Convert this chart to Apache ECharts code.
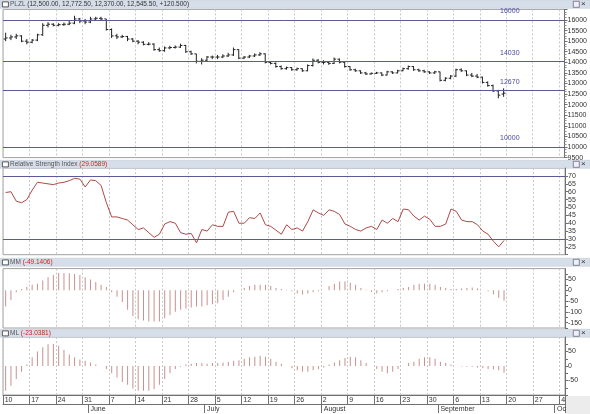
<!DOCTYPE html>
<html>
<head>
<meta charset="utf-8">
<script src="https://cdn.jsdelivr.net/npm/echarts@6/dist/echarts.min.js"></script>
<style>
  html, body { margin: 0; padding: 0; background: #fff; }
  #chart { width: 590px; height: 414px; }
</style>
</head>
<body>
<div id="chart"></div>
<script>
// daily bars [open, high, low, close], 10 May - 17 Sep
var ohlc = [
  [15100,15400,15000,15150],[15150,15300,15050,15200],[15200,15350,15100,15250],[15250,15280,14950,15000],[15000,15100,14850,14950],
  [14950,15100,14900,15050],[15050,15350,15000,15300],[15300,15850,15250,15750],[15750,15900,15650,15800],[15800,15850,15700,15750],
  [15750,15850,15700,15780],[15780,15880,15720,15800],[15800,15950,15750,15850],[15850,16200,15800,16050],[16050,16100,15850,15950],
  [15950,16050,15800,15900],[15900,16150,15850,16050],[16050,16150,15980,16080],[16080,16150,15950,16050],[16050,16050,15500,15550],
  [15550,15600,15150,15250],[15250,15350,15100,15200],[15200,15300,15150,15220],[15220,15250,15000,15100],[15100,15150,14950,15000],
  [15000,15050,14850,14950],[14950,15000,14800,14850],[14850,14950,14800,14860],[14860,14900,14550,14600],[14600,14700,14500,14550],
  [14550,14750,14500,14680],[14680,14780,14620,14700],[14700,14800,14650,14720],[14720,14880,14680,14800],[14800,14820,14450,14500],
  [14500,14550,14350,14400],[14400,14400,13950,14050],[14050,14200,13900,14100],[14100,14300,14050,14250],[14250,14320,14150,14250],
  [14250,14350,14150,14250],[14250,14380,14200,14300],[14300,14450,14250,14350],[14350,14700,14300,14600],[14600,14620,14150,14200],
  [14200,14300,14150,14250],[14250,14350,14200,14300],[14300,14420,14250,14350],[14350,14480,14300,14400],[14400,14420,13950,14000],
  [14000,14050,13900,13950],[13950,14000,13750,13800],[13800,13850,13650,13700],[13700,13800,13650,13750],[13750,13780,13600,13650],
  [13650,13750,13600,13700],[13700,13720,13550,13600],[13600,13900,13580,13850],[13850,14180,13800,14100],[14100,14150,13950,14000],
  [14000,14100,13900,14000],[14000,14020,13880,13950],[13950,14230,13920,14150],[14150,14180,13950,14000],[14000,14020,13750,13800],
  [13800,13820,13600,13650],[13650,13700,13550,13600],[13600,13620,13450,13500],[13500,13550,13400,13450],[13450,13520,13420,13480],
  [13480,13550,13450,13500],[13500,13520,13350,13400],[13400,13600,13380,13550],[13550,13580,13450,13500],[13500,13650,13480,13600],
  [13600,13750,13580,13700],[13700,13850,13650,13800],[13800,13820,13600,13650],[13650,13700,13550,13600],[13600,13650,13500,13550],
  [13550,13580,13450,13500],[13500,13600,13450,13550],[13550,13560,13100,13150],[13150,13300,13100,13250],[13250,13400,13200,13350],
  [13350,13700,13300,13650],[13650,13720,13550,13600],[13600,13620,13350,13400],[13400,13500,13300,13350],[13350,13450,13250,13300],
  [13300,13320,13000,13050],[13050,13100,12850,12900],[12900,12950,12600,12650],[12650,12700,12300,12450],[12500,12772.5,12370,12545.5]
];
var rsi = [59.5,60,54,53,55,61,66,65.5,65,64.5,
  65.5,66,67,68.5,68,63,67.5,67,64,53,
  44,44,43,42,39,36,37,34,31,33,
  39.5,41,40,34,33,33.5,27.5,36,35,39,
  38,38,47,47.5,40,40,43.5,43,46.5,39,
  38,35.5,33,39,36,37,35,41,48.5,46.5,
  45,48.5,47.5,45.5,39.5,38,36,35,37,38,
  36,42,40,43,41,49,48.5,44.5,42,44.5,
  42.5,38,38,39.5,49,47.5,42,41,41,39,
  35,33,28.5,25,29.06];
var mm = [-75,-45,-10,5,15,25,30,45,60,70,
  80,80,78,75,70,60,50,38,25,15,
  -10,-30,-55,-90,-120,-135,-140,-145,-145,-145,
  -130,-115,-100,-90,-85,-80,-75,-75,-70,-65,
  -60,-45,-30,-10,0,10,20,25,25,25,
  20,10,5,2,-5,-15,-20,-15,-10,-5,
  0,20,30,40,40,35,25,10,2,-8,
  -15,-10,-5,0,5,10,15,25,30,30,
  30,25,15,10,5,5,8,10,12,8,
  0,-5,-20,-35,-49.14];
var ml = [-85,-68,-45,-20,5,30,50,65,75,76,
  70,55,40,30,22,18,12,5,0,-10,
  -25,-40,-55,-65,-78,-85,-85,-85,-80,-65,
  -45,-25,-10,-3,5,8,10,10,8,10,
  10,12,15,18,20,25,30,32,35,32,
  25,15,8,0,-8,-15,-20,-20,-15,-10,
  -5,5,12,20,28,32,30,20,10,0,
  -10,-20,-25,-20,-10,0,10,15,25,30,
  30,25,15,10,5,0,-2,-3,-3,-5,
  -8,-10,-12,-15,-23.04];
var priceLevels = [16000, 14030, 12670, 10000];
var rsiLevels = [70, 30];
var monthNames = ['January','February','March','April','May','June','July','August','September','October','November','December'];

// business days from 10 May 2010 (axis runs into early October)
var days = [];
var d = new Date(2010, 4, 10);
while (days.length < 106) {
  if (d.getDay() !== 0 && d.getDay() !== 6) days.push(new Date(d));
  d.setDate(d.getDate() + 1);
}
var cats = days.map(function (x) { return x.getFullYear() + '-' + (x.getMonth() + 1) + '-' + x.getDate(); });
function isMonday(i) { return days[i].getDay() === 1; }
function isMonthStart(i) { return i === 0 ? false : days[i].getMonth() !== days[i - 1].getMonth(); }

var font = 'Liberation Sans';
var gridL = 3, gridR = 25;
var grids = [
  { left: gridL, right: gridR, top: 9.4, height: 148.2 },
  { left: gridL, right: gridR, top: 168.1, height: 86.6 },
  { left: gridL, right: gridR, top: 268.6, height: 59.4 },
  { left: gridL, right: gridR, top: 337, height: 58 }
];
grids.forEach(function (g) { g.show = true; g.borderColor = '#a0a0a0'; g.borderWidth = 1; });

function xAx(gi, showLabels) {
  return {
    type: 'category', gridIndex: gi, data: cats, boundaryGap: true,
    axisLine: { show: showLabels, onZero: false, lineStyle: { color: '#707070' } },
    axisTick: { show: showLabels, interval: function (i) { return isMonday(i); }, length: 9, lineStyle: { color: '#707070' } },
    axisLabel: {
      show: showLabels, interval: function (i) { return isMonday(i); },
      formatter: function (v, i) { return String(days[i].getDate()); },
      align: 'left', margin: 2, fontSize: 7, fontFamily: font, color: '#333', padding: [0, 0, 0, -1]
    },
    splitLine: { show: true, interval: function (i) { return isMonday(i); }, lineStyle: { color: '#c8c8c8', type: [2, 2], width: 1 } }
  };
}
function yAx(gi, min, max, interval, labelFmt, minor) {
  return {
    type: 'value', gridIndex: gi, position: 'right', min: min, max: max, interval: interval,
    axisLine: { show: true, lineStyle: { color: '#707070' } },
    axisTick: { show: true, length: 3, lineStyle: { color: '#707070' } },
    minorTick: { show: minor, splitNumber: 4, length: 2, lineStyle: { color: '#909090' } },
    axisLabel: { fontSize: 7, fontFamily: font, color: '#333', margin: 3, showMaxLabel: false, formatter: labelFmt },
    splitLine: { show: false }
  };
}

var xAxes = [xAx(0, false), xAx(1, false), xAx(2, false), xAx(3, true)];
xAxes.push({
  type: 'category', gridIndex: 3, data: cats, position: 'bottom', offset: 9,
  axisLine: { show: true, onZero: false, lineStyle: { color: '#707070' } },
  axisTick: { show: true, interval: function (i) { return isMonthStart(i); }, length: 9, lineStyle: { color: '#707070' } },
  axisLabel: {
    interval: function (i) { return isMonthStart(i); },
    formatter: function (v, i) { return monthNames[days[i].getMonth()]; },
    align: 'left', margin: 2, fontSize: 7, fontFamily: font, color: '#333'
  },
  splitLine: { show: false }
});

var yAxes = [
  yAx(0, 9500, 16500, 500, function (v) { return String(v); }, true),
  yAx(1, 20, 75, 5, function (v) { return v === 20 ? '' : String(v); }, false),
  yAx(2, -175, 100, 25, function (v) { return v % 50 === 0 ? String(v) : ''; }, false),
  yAx(3, -100, 100, 25, function (v) { return v % 50 === 0 && v > -100 ? String(v) : ''; }, false)
];

var lineColor = '#5c5c94';
var barColor = '#c89090';

function header(y, title, value) {
  return [
    { type: 'rect', left: 0, top: y, shape: { width: 590, height: 8 }, style: { fill: '#d6dee9', stroke: '#b8c2d0', lineWidth: 0.5 } },
    { type: 'rect', left: 2, top: y + 1.5, shape: { width: 6, height: 5 }, style: { fill: '#fff', stroke: '#333', lineWidth: 0.8 } },
    { type: 'text', left: 10, top: y + 0.5, style: {
      text: '{t|' + title + '}{v|' + value + '}', fontSize: 6.5, fontFamily: font,
      rich: { t: { fill: '#555', fontSize: 6.5, fontFamily: font }, v: { fill: value.charAt(1) === '1' ? '#333' : '#d02020', fontSize: 6.5, fontFamily: font } }
    } },
    { type: 'rect', left: 573, top: y + 1, shape: { width: 6, height: 6 }, style: { fill: '#eef', stroke: '#444', lineWidth: 0.6 } },
    { type: 'text', left: 581, top: y, style: { text: '×', fontSize: 8, fontFamily: font, fill: '#333' } }
  ];
}

var option = {
  animation: false,
  backgroundColor: '#fff',
  grid: grids,
  xAxis: xAxes,
  yAxis: yAxes,
  graphic: [].concat(
    header(0, 'PLZL ', '(12,500.00, 12,772.50, 12,370.00, 12,545.50, +120.500)'),
    header(160, 'Relative Strength Index ', '(29.0589)'),
    header(258, 'MM ', '(-49.1406)'),
    header(329, 'ML ', '(-23.0381)'),
    [{ type: 'rect', left: 566, top: 396, z: 100, shape: { width: 24, height: 18 }, style: { fill: '#ececec' } }]
  ),
  series: [
    {
      type: 'custom', xAxisIndex: 0, yAxisIndex: 0,
      data: ohlc.map(function (r, i) { return [i, r[0], r[1], r[2], r[3]]; }),
      encode: { x: 0, y: [1, 2, 3, 4] },
      renderItem: function (params, api) {
        var i = api.value(0);
        var hi = api.coord([i, api.value(2)]);
        var lo = api.coord([i, api.value(3)]);
        var op = api.coord([i, api.value(1)]);
        var cl = api.coord([i, api.value(4)]);
        var w = 2;
        var st = { stroke: '#222', lineWidth: 1 };
        return { type: 'group', children: [
          { type: 'line', shape: { x1: hi[0], y1: hi[1], x2: lo[0], y2: lo[1] }, style: st },
          { type: 'line', shape: { x1: op[0] - w, y1: op[1], x2: op[0], y2: op[1] }, style: st },
          { type: 'line', shape: { x1: cl[0], y1: cl[1], x2: cl[0] + w, y2: cl[1] }, style: st }
        ] };
      },
      markLine: {
        silent: true, symbol: 'none',
        lineStyle: { color: lineColor, type: 'solid', width: 1 },
        label: { position: 'insideEndTop', formatter: '{c}', color: '#4a4aa0', fontSize: 7, fontFamily: font, padding: [0, 40, 0, 0] },
        data: priceLevels.map(function (v) { return { yAxis: v }; })
      }
    },
    {
      type: 'line', xAxisIndex: 1, yAxisIndex: 1, data: rsi, symbol: 'none',
      lineStyle: { color: '#b04848', width: 1 },
      markLine: {
        silent: true, symbol: 'none', label: { show: false },
        lineStyle: { color: lineColor, type: 'solid', width: 1 },
        data: rsiLevels.map(function (v) { return { yAxis: v }; })
      }
    },
    { type: 'bar', xAxisIndex: 2, yAxisIndex: 2, data: mm, barWidth: 1, itemStyle: { color: barColor } },
    { type: 'bar', xAxisIndex: 3, yAxisIndex: 3, data: ml, barWidth: 1, itemStyle: { color: barColor } }
  ]
};

var myChart = echarts.init(document.getElementById('chart'));
myChart.setOption(option);
</script>
</body>
</html>
